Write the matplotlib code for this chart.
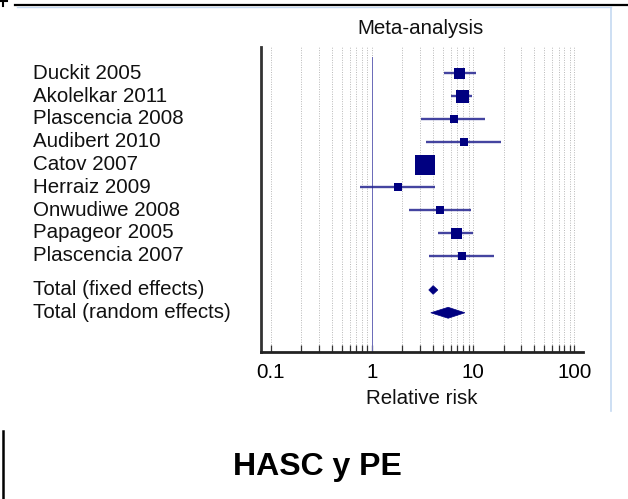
import matplotlib
matplotlib.use("Agg")
import matplotlib.pyplot as plt
import numpy as np
from matplotlib.lines import Line2D
from matplotlib.patches import Polygon
from matplotlib.ticker import FixedLocator, NullFormatter
import matplotlib.transforms as mtransforms

plt.rcParams['font.family'] = ['Liberation Sans', 'DejaVu Sans']

# ---- data ----
studies = ["Duckit 2005", "Akolelkar 2011", "Plascencia 2008", "Audibert 2010",
           "Catov 2007", "Herraiz 2009", "Onwudiwe 2008", "Papageor 2005",
           "Plascencia 2007"]
rr = [7.26, 7.73, 6.40, 8.20, 3.32, 1.81, 4.71, 6.74, 7.73]
ci_low = [5.13, 6.00, 3.03, 3.40, 2.95, 0.755, 2.32, 4.50, 3.64]
ci_high = [10.6, 9.78, 13.1, 18.7, 3.75, 4.15, 9.42, 9.93, 15.9]
weights = [12.1, 16.9, 7.2, 6.4, 40.0, 6.4, 6.4, 12.1, 6.4]

pooled_labels = ["Total (fixed effects)", "Total (random effects)"]
pooled_rr = [4.02, 5.66]
pooled_low = [3.64, 3.81]
pooled_high = [4.47, 8.28]

tick_values = [0.1, 1, 10, 100]
tick_labels = ["0.1", "1", "10", "100"]

W, H = 628, 499
fig = plt.figure(figsize=(W / 100, H / 100), dpi=100)
fig.patch.set_facecolor("white")

ax_left, ax_right, ax_top, ax_bot = 260.7, 583, 47, 352
ax = fig.add_axes([ax_left / W, 1 - ax_bot / H, (ax_right - ax_left) / W, (ax_bot - ax_top) / H])
ax.set_xscale("log")
ax.set_xlim(0.0792, 122)
ax.set_ylim(12.22, -1.153)

navy = "#000080"
line_col = "#23238f"
FS = 14.8

# grid
ax.xaxis.set_major_locator(FixedLocator(tick_values))
minors = [k * 10.0 ** e for e in (-1, 0, 1) for k in range(2, 10)]
ax.xaxis.set_minor_locator(FixedLocator(minors))
ax.xaxis.set_minor_formatter(NullFormatter())
ax.set_xticklabels(tick_labels)
ax.grid(True, which="both", axis="x", linestyle=(0, (1, 1.5)), color="#b8b8b8", lw=0.7)
ax.set_axisbelow(True)

# reference line at 1
ax.plot([1, 1], [-0.715, 12.22], color="#6a6ab8", lw=0.7, zorder=2)

ypos = np.arange(len(studies))
for y, r, lo, hi, w in zip(ypos, rr, ci_low, ci_high, weights):
    ax.plot([lo, hi], [y, y], color=line_col, lw=1.7, alpha=0.85, solid_capstyle="butt", zorder=3)
    side_px = np.sqrt(w * 10)
    ax.plot([r], [y], marker="s", markersize=side_px * 72 / 100, color=navy,
            markeredgewidth=0, zorder=4)

pooled_y = [len(studies) + 0.5, len(studies) + 1.5]
half_h = [0.19, 0.24]
for y, r, lo, hi, hh in zip(pooled_y, pooled_rr, pooled_low, pooled_high, half_h):
    poly = Polygon([[lo, y], [r, y - hh], [hi, y], [r, y + hh]], closed=True,
                   facecolor=navy, edgecolor=navy, lw=0.5, zorder=4)
    ax.add_patch(poly)

# spines & ticks
for s in ("top", "right"):
    ax.spines[s].set_visible(False)
ax.spines["left"].set_linewidth(2)
ax.spines["left"].set_color("#333333")
ax.spines["bottom"].set_linewidth(2)
ax.spines["bottom"].set_color("#222222")
ax.tick_params(axis="x", which="both", direction="in", length=5, width=0.9, color="#333333",
               labelsize=FS, pad=8)
ax.tick_params(axis="y", left=False, labelleft=False)
ax.set_xlabel("Relative risk", fontsize=FS, labelpad=5, color="#111111")

# study labels
trans = mtransforms.blended_transform_factory(fig.transFigure, ax.transData)
for y, name in zip(ypos, studies):
    ax.text(33 / W, y, name, transform=trans, fontsize=FS, va="center", ha="left",
            color="#111111")
for y, name in zip(pooled_y, pooled_labels):
    ax.text(33 / W, y, name, transform=trans, fontsize=FS, va="center", ha="left",
            color="#111111")

fig.text(420.8 / W, 1 - 28.7 / H, "Meta-analysis", fontsize=FS, ha="center", va="center",
         color="#111111")
fig.text(317.5 / W, 1 - 466.5 / H, "HASC y PE", fontsize=23, fontweight="bold",
         ha="center", va="center", color="black")

# slide decorations
def fline(xs, ys, **kw):
    fig.add_artist(Line2D([x / W for x in xs], [1 - y / H for y in ys],
                          transform=fig.transFigure, **kw))

fline([15, 628], [5, 5], color="black", lw=1.6)
fline([17, 611], [7, 7], color="#c5d9f1", lw=1)
fline([611, 611], [7, 411], color="#c5d9f1", lw=1.2)
fline([3, 3], [0, 6], color="black", lw=1.5)
fline([0, 7], [0.5, 0.5], color="black", lw=1.5)
fline([3, 3], [431, 498], color="black", lw=1.8)

fig.savefig("out.png", dpi=100, facecolor="white")
